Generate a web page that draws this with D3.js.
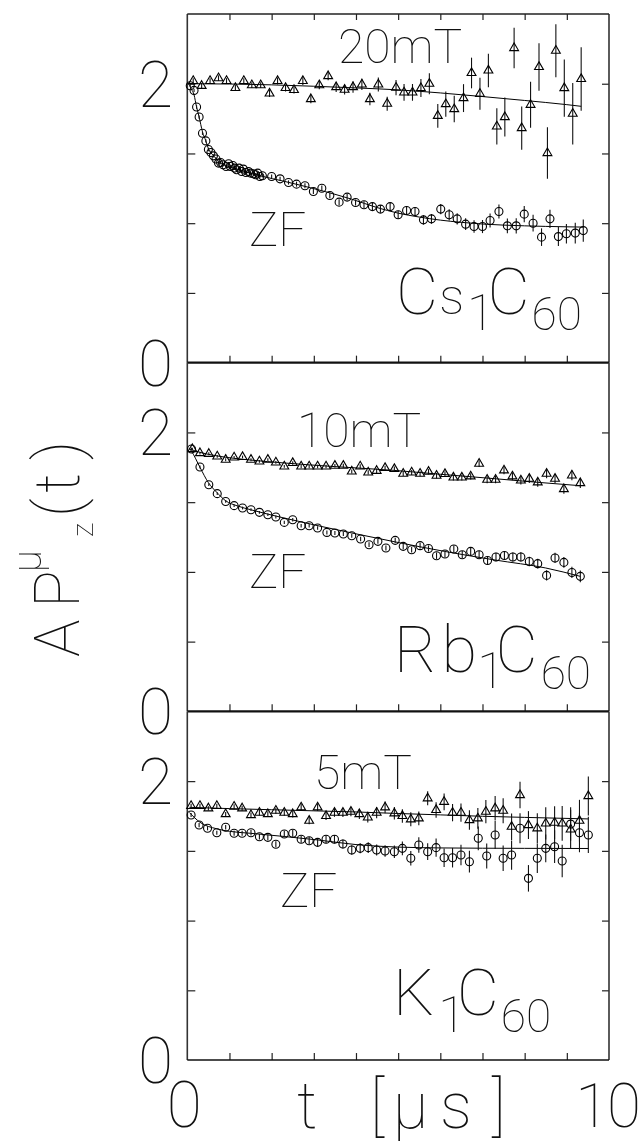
<!DOCTYPE html>
<html><head><meta charset="utf-8">
<script src="https://cdn.jsdelivr.net/npm/d3@7"></script>
<style>
html,body{margin:0;padding:0;background:#fff;}
svg{will-change:transform;}
svg text{font-family:Roboto,"DejaVu Sans",sans-serif;font-weight:100;fill:#111;}
</style></head><body>
<svg id="chart" width="641" height="1148"></svg>
<script>
// Muon spin relaxation A·P_z(t) for A1C60 (A = Cs, Rb, K); [t (µs), asymmetry, error]

// Cs1C60, longitudinal field 20 mT (triangles)
const csField = [[0.14,2.02,0.02],[0.34,1.985,0.02],[0.54,2.02,0.02],[0.74,2.04,0.02],[0.93,2.02,0.02],[1.14,1.97,0.02],[1.34,2.02,0.02],[1.53,1.99,0.02],[1.74,1.99,0.02],[1.95,1.93,0.025],[2.14,2.02,0.025],[2.33,1.97,0.025],[2.53,1.955,0.025],[2.74,2.02,0.03],[2.93,1.89,0.03],[3.13,1.99,0.03],[3.34,2.055,0.03],[3.53,1.976,0.035],[3.73,1.957,0.035],[3.93,1.976,0.04],[4.14,1.995,0.04],[4.33,1.89,0.045],[4.53,1.995,0.05],[4.74,1.857,0.05],[4.95,1.972,0.055],[5.14,1.938,0.06],[5.34,1.938,0.06],[5.54,1.969,0.065],[5.74,2.0,0.075],[5.94,1.77,0.085],[6.13,1.854,0.09],[6.33,1.818,0.095],[6.55,1.897,0.1],[6.74,2.077,0.11],[6.94,1.928,0.115],[7.14,2.095,0.12],[7.34,1.694,0.13],[7.53,1.761,0.14],[7.75,2.256,0.145],[7.93,1.682,0.155],[8.14,1.849,0.165],[8.34,2.12,0.17],[8.54,1.503,0.185],[8.74,2.237,0.19],[8.94,1.969,0.205],[9.14,1.785,0.22],[9.34,2.034,0.227]];
// Cs1C60, zero field (circles)
const csZF = [[0.07,1.986,0.012],[0.16,1.952,0.012],[0.22,1.833,0.012],[0.28,1.761,0.012],[0.36,1.645,0.012],[0.44,1.59,0.012],[0.5,1.528,0.012],[0.56,1.507,0.012],[0.62,1.483,0.012],[0.68,1.46,0.012],[0.74,1.431,0.012],[0.79,1.435,0.012],[0.85,1.419,0.012],[0.92,1.407,0.012],[0.98,1.426,0.012],[1.02,1.407,0.012],[1.08,1.414,0.012],[1.12,1.395,0.012],[1.17,1.383,0.012],[1.23,1.395,0.012],[1.29,1.371,0.012],[1.33,1.388,0.012],[1.39,1.363,0.012],[1.45,1.371,0.012],[1.5,1.359,0.012],[1.57,1.354,0.012],[1.62,1.347,0.012],[1.67,1.359,0.012],[1.72,1.335,0.012],[1.78,1.34,0.012],[2.0,1.335,0.015],[2.2,1.318,0.015],[2.4,1.292,0.015],[2.59,1.28,0.018],[2.79,1.268,0.018],[2.99,1.227,0.018],[3.19,1.251,0.02],[3.38,1.199,0.02],[3.6,1.151,0.02],[3.79,1.187,0.022],[3.99,1.148,0.022],[4.19,1.132,0.025],[4.39,1.119,0.025],[4.58,1.101,0.027],[4.81,1.119,0.028],[5.0,1.06,0.03],[5.2,1.091,0.03],[5.4,1.084,0.032],[5.6,1.024,0.034],[5.79,1.031,0.035],[6.01,1.101,0.037],[6.21,1.06,0.04],[6.4,1.031,0.04],[6.6,0.993,0.042],[6.8,0.976,0.045],[7.0,0.976,0.047],[7.18,1.019,0.05],[7.39,1.084,0.05],[7.59,0.981,0.053],[7.8,0.981,0.055],[7.99,1.065,0.058],[8.2,1.0,0.06],[8.4,0.9,0.063],[8.6,1.031,0.065],[8.8,0.904,0.068],[8.99,0.924,0.07],[9.2,0.929,0.075],[9.39,0.947,0.08]];
const csFieldFit = [[0.0,2.0],[1.0,1.998],[2.0,1.992],[3.0,1.982],[4.0,1.97],[5.0,1.956],[6.0,1.934],[7.0,1.908],[8.0,1.88],[9.0,1.85],[9.34,1.838]];
const csZFFit = [[0.05,1.99],[0.1,1.96],[0.16,1.92],[0.22,1.833],[0.28,1.762],[0.36,1.655],[0.44,1.59],[0.5,1.535],[0.62,1.485],[0.74,1.445],[0.9,1.415],[1.1,1.395],[1.4,1.366],[1.75,1.338],[2.3,1.3],[3.1,1.24],[3.9,1.172],[4.5,1.112],[5.0,1.072],[5.5,1.044],[6.0,1.022],[6.5,1.006],[7.0,0.994],[8.0,0.981],[9.0,0.974],[9.39,0.972]];

// Rb1C60, longitudinal field 10 mT
const rbField = [[0.12,1.881,0.01],[0.3,1.852,0.01],[0.51,1.847,0.01],[0.71,1.828,0.01],[0.91,1.804,0.01],[1.11,1.821,0.01],[1.31,1.824,0.01],[1.51,1.804,0.01],[1.71,1.792,0.01],[1.91,1.804,0.01],[2.1,1.785,0.01],[2.3,1.756,0.01],[2.5,1.781,0.012],[2.7,1.756,0.012],[2.89,1.756,0.012],[3.09,1.756,0.012],[3.29,1.756,0.013],[3.5,1.761,0.013],[3.7,1.761,0.014],[3.9,1.72,0.014],[4.1,1.756,0.015],[4.29,1.713,0.015],[4.49,1.725,0.016],[4.69,1.745,0.016],[4.91,1.738,0.017],[5.12,1.704,0.017],[5.32,1.713,0.018],[5.52,1.704,0.018],[5.72,1.718,0.019],[5.91,1.69,0.02],[6.11,1.702,0.02],[6.31,1.677,0.021],[6.51,1.677,0.022],[6.72,1.685,0.023],[6.92,1.776,0.024],[7.11,1.661,0.025],[7.31,1.661,0.026],[7.51,1.728,0.027],[7.71,1.685,0.028],[7.91,1.656,0.029],[8.11,1.668,0.03],[8.31,1.642,0.031],[8.52,1.704,0.032],[8.72,1.668,0.033],[8.93,1.594,0.034],[9.12,1.692,0.035],[9.32,1.637,0.036]];
const rbZF = [[0.1,1.881,0.01],[0.3,1.752,0.01],[0.51,1.625,0.01],[0.71,1.561,0.01],[0.91,1.505,0.01],[1.11,1.475,0.01],[1.31,1.458,0.01],[1.51,1.446,0.01],[1.71,1.427,0.01],[1.91,1.41,0.01],[2.1,1.394,0.011],[2.3,1.355,0.011],[2.5,1.374,0.012],[2.7,1.331,0.012],[2.89,1.331,0.013],[3.09,1.315,0.013],[3.31,1.283,0.014],[3.5,1.279,0.014],[3.7,1.272,0.015],[3.9,1.259,0.015],[4.11,1.236,0.016],[4.31,1.195,0.017],[4.52,1.219,0.017],[4.71,1.171,0.018],[4.93,1.226,0.019],[5.12,1.183,0.02],[5.32,1.159,0.02],[5.52,1.188,0.021],[5.72,1.168,0.022],[5.91,1.116,0.023],[6.11,1.128,0.024],[6.32,1.164,0.025],[6.52,1.123,0.026],[6.72,1.147,0.027],[6.92,1.123,0.028],[7.12,1.082,0.029],[7.32,1.107,0.03],[7.52,1.118,0.031],[7.72,1.107,0.032],[7.91,1.107,0.033],[8.11,1.075,0.034],[8.31,1.059,0.035],[8.52,0.975,0.036],[8.72,1.1,0.037],[8.93,1.068,0.038],[9.12,0.996,0.04],[9.32,0.968,0.042]];
const rbFieldFit = [[0.05,1.882],[0.3,1.857],[0.7,1.832],[1.5,1.802],[2.3,1.781],[3.5,1.755],[4.9,1.728],[6.0,1.7],[7.1,1.673],[8.2,1.645],[9.32,1.618]];
const rbZFFit = [[0.05,1.885],[0.1,1.865],[0.3,1.75],[0.5,1.64],[0.7,1.57],[0.9,1.512],[1.2,1.472],[1.5,1.446],[2.3,1.386],[3.1,1.331],[3.9,1.279],[4.93,1.215],[6.1,1.147],[7.3,1.085],[8.5,1.028],[9.32,0.968]];

// K1C60, longitudinal field 5 mT
const kField = [[0.09,1.822,0.015],[0.3,1.822,0.015],[0.5,1.805,0.015],[0.7,1.822,0.015],[0.91,1.764,0.015],[1.11,1.817,0.018],[1.3,1.805,0.018],[1.51,1.757,0.018],[1.71,1.774,0.02],[1.91,1.764,0.02],[2.1,1.788,0.022],[2.3,1.774,0.022],[2.5,1.764,0.024],[2.7,1.812,0.025],[2.89,1.716,0.026],[3.09,1.812,0.027],[3.29,1.75,0.028],[3.49,1.774,0.03],[3.69,1.774,0.032],[3.88,1.781,0.033],[4.08,1.764,0.035],[4.28,1.74,0.037],[4.49,1.774,0.04],[4.69,1.812,0.042],[4.91,1.769,0.045],[5.1,1.75,0.048],[5.3,1.726,0.05],[5.49,1.733,0.05],[5.7,1.877,0.05],[5.9,1.793,0.055],[6.09,1.852,0.06],[6.29,1.774,0.062],[6.49,1.774,0.066],[6.69,1.721,0.07],[6.89,1.733,0.075],[7.08,1.781,0.083],[7.3,1.805,0.088],[7.49,1.788,0.09],[7.69,1.673,0.095],[7.89,1.9,0.095],[8.09,1.685,0.1],[8.3,1.662,0.107],[8.5,1.697,0.115],[8.71,1.702,0.118],[8.89,1.697,0.125],[9.09,1.654,0.14],[9.3,1.716,0.15],[9.51,1.893,0.14]];
const kZF = [[0.09,1.757,0.015],[0.28,1.685,0.015],[0.48,1.662,0.015],[0.7,1.63,0.015],[0.91,1.669,0.016],[1.11,1.626,0.018],[1.3,1.626,0.018],[1.51,1.63,0.019],[1.71,1.601,0.02],[1.91,1.597,0.021],[2.1,1.547,0.022],[2.3,1.621,0.023],[2.5,1.626,0.024],[2.7,1.583,0.025],[2.89,1.573,0.026],[3.09,1.561,0.028],[3.29,1.583,0.029],[3.49,1.583,0.03],[3.69,1.549,0.032],[3.9,1.506,0.034],[4.1,1.518,0.036],[4.29,1.523,0.038],[4.49,1.506,0.04],[4.69,1.499,0.042],[4.91,1.494,0.045],[5.1,1.518,0.05],[5.3,1.447,0.052],[5.49,1.542,0.056],[5.7,1.494,0.06],[5.9,1.523,0.065],[6.09,1.451,0.066],[6.29,1.451,0.07],[6.49,1.47,0.074],[6.69,1.422,0.078],[6.9,1.59,0.085],[7.1,1.463,0.09],[7.3,1.614,0.1],[7.49,1.447,0.092],[7.69,1.47,0.105],[7.89,1.662,0.107],[8.09,1.303,0.095],[8.3,1.447,0.105],[8.5,1.518,0.1],[8.71,1.53,0.117],[8.89,1.427,0.116],[9.09,1.692,0.12],[9.3,1.63,0.14],[9.51,1.614,0.13]];
const kFieldFit = [[0.05,1.812],[1.0,1.803],[2.0,1.795],[3.0,1.787],[4.0,1.779],[5.0,1.768],[6.0,1.758],[7.0,1.748],[8.0,1.74],[9.51,1.729]];
const kZFFit = [[0.05,1.775],[0.3,1.705],[0.7,1.658],[1.0,1.64],[1.5,1.626],[2.3,1.603],[3.1,1.578],[4.0,1.545],[5.0,1.527],[6.0,1.521],[7.0,1.519],[8.0,1.518],[9.51,1.517]];

const fieldLabels = ["20mT", "10mT", "5mT"];
const yTickLabels = ["0", "2"];
const xTickLabels = ["0", "10"];

// ---------------------------------------------------------------
const svg = d3.select("#chart");
const X0 = 187.3, X1 = 609;
const panelTop = [14, 362.7, 711.4];
const panelH = 348.65;
const x = d3.scaleLinear().domain([0, 10]).range([X0, X1]);

const panels = [
  {field: csField, zf: csZF, fieldFit: csFieldFit, zfFit: csZFFit},
  {field: rbField, zf: rbZF, fieldFit: rbFieldFit, zfFit: rbZFFit},
  {field: kField, zf: kZF, fieldFit: kFieldFit, zfFit: kZFFit}
];

const triangle = d3.symbol().type(d3.symbolTriangle).size(34);
const fitLine = y => d3.line().x(d => x(d[0])).y(d => y(d[1])).curve(d3.curveMonotoneX);

panels.forEach((p, i) => {
  const top = panelTop[i], bottom = top + panelH;
  const y = d3.scaleLinear().domain([0, 2.5]).range([bottom, top]);
  const g = svg.append("g");

  // inward ticks on all four sides
  const tickStyle = sel => { sel.select(".domain").remove(); sel.selectAll(".tick line").attr("stroke", "#222").attr("stroke-width", 1.2); sel.selectAll("text").remove(); };
  g.append("g").attr("transform", `translate(0,${bottom})`)
    .call(d3.axisBottom(x).tickValues(d3.range(1, 10)).tickSize(-7).tickFormat(""))
    .call(tickStyle);
  if (i === 0) {
    g.append("g").attr("transform", `translate(0,${top})`)
      .call(d3.axisTop(x).tickValues(d3.range(1, 10)).tickSize(-6).tickFormat(""))
      .call(tickStyle);
  }
  g.append("g").attr("transform", `translate(${X0},0)`)
    .call(d3.axisLeft(y).tickValues([0.5, 1, 1.5, 2]).tickSize(-8).tickFormat(""))
    .call(tickStyle);
  g.append("g").attr("transform", `translate(${X1},0)`)
    .call(d3.axisRight(y).tickValues([0.5, 1, 1.5, 2]).tickSize(-7).tickFormat(""))
    .call(tickStyle);

  // frame
  g.append("line").attr("x1", X0).attr("x2", X0).attr("y1", top).attr("y2", bottom).attr("stroke", "#333").attr("stroke-width", 1.6);
  g.append("line").attr("x1", X1).attr("x2", X1).attr("y1", top).attr("y2", bottom).attr("stroke", "#333").attr("stroke-width", 1.6);
  g.append("line").attr("x1", X0).attr("x2", X1).attr("y1", bottom).attr("y2", bottom).attr("stroke", "#111").attr("stroke-width", i < 2 ? 2.2 : 1.6);
  if (i === 0) g.append("line").attr("x1", X0).attr("x2", X1).attr("y1", top).attr("y2", top).attr("stroke", "#222").attr("stroke-width", 1.4);

  // y tick labels
  [0, 2].forEach((v, k) => {
    g.append("text").attr("x", 173).attr("y", y(v) + 23).attr("text-anchor", "end")
      .attr("font-size", 64).text(yTickLabels[k]);
  });

  // fit curves
  g.append("path").datum(p.fieldFit).attr("d", fitLine(y)).attr("fill", "none").attr("stroke", "#000").attr("stroke-width", 1);
  g.append("path").datum(p.zfFit).attr("d", fitLine(y)).attr("fill", "none").attr("stroke", "#000").attr("stroke-width", 1);

  // error bars
  const bars = p.field.concat(p.zf);
  g.append("g").selectAll("line").data(bars).join("line")
    .attr("x1", d => x(d[0])).attr("x2", d => x(d[0]))
    .attr("y1", d => y(d[1] - d[2])).attr("y2", d => y(d[1] + d[2]))
    .attr("stroke", "#111").attr("stroke-width", 1.1);

  // markers
  g.append("g").selectAll("circle").data(p.zf).join("circle")
    .attr("cx", d => x(d[0])).attr("cy", d => y(d[1])).attr("r", 4)
    .attr("fill", "none").attr("stroke", "#000").attr("stroke-width", 1.1);
  g.append("g").selectAll("path").data(p.field).join("path")
    .attr("d", triangle).attr("transform", d => `translate(${x(d[0])},${y(d[1])})`)
    .attr("fill", "none").attr("stroke", "#000").attr("stroke-width", 1.1);
});

// field / zero-field labels
const fieldPos = [[338, 63], [297, 447], [314, 789]];
const zfPos = [[249, 246], [249, 588], [280, 907]];
fieldLabels.forEach((t, i) => {
  svg.append("text").attr("x", fieldPos[i][0]).attr("y", fieldPos[i][1]).attr("font-size", 48).text(t);
  svg.append("text").attr("x", zfPos[i][0]).attr("y", zfPos[i][1]).attr("font-size", 49).text("ZF");
});

// compound labels set as one flowing text: [glyphs, dx, baseline shift, size, letter-spacing]
const compound = [
  {x: 396, y: 314, parts: [["C",0,0,65,0],["s",1,0,50,0],["1",3,16,50,-9],["C",2,-16,65,0],["60",2,16,46,0]]},
  {x: 394, y: 672, parts: [["R",0,0,65,0],["b",5,0,65,0],["1",0,16,50,-9],["C",0,-16,65,0],["60",3,17,46,0]]},
  {x: 393, y: 1015, parts: [["K",0,0,65,0],["1",4,17,50,-9],["C",0,-17,65,0],["60",2,17,46,0]]}
];
compound.forEach(c => {
  const t = svg.append("text").attr("x", c.x).attr("y", c.y);
  c.parts.forEach(([s, dx, dy, fs, ls]) => t.append("tspan").attr("dx", dx).attr("dy", dy)
    .attr("font-size", fs).attr("letter-spacing", ls).text(s));
});

// x axis labels
svg.append("text").attr("x", x(0) - 3).attr("y", 1127).attr("text-anchor", "middle").attr("font-size", 64).text(xTickLabels[0]);
svg.append("text").attr("x", 639).attr("y", 1127).attr("text-anchor", "end").attr("font-size", 62).attr("letter-spacing", -2).text(xTickLabels[1]);
const xt = svg.append("text").attr("font-size", 64);
[["t",297],["[",370],["μ",393],["s",440],["]",492]].forEach(([s, px]) => xt.append("tspan").attr("x", px).attr("y", 1128).text(s));

// y axis title: A P^μ_z (t)
const yt = svg.append("g").attr("transform", "translate(79,657) rotate(-90)").append("text");
[["A",0,0,63],["P",49,0,63],["μ",85,-38,40],["z",120,14,30],["(",140,0,63],["t",164,0,63],[")",197,0,63]]
  .forEach(([s, px, py, fs]) => yt.append("tspan").attr("x", px).attr("y", py).attr("font-size", fs).text(s));
</script>
</body></html>
